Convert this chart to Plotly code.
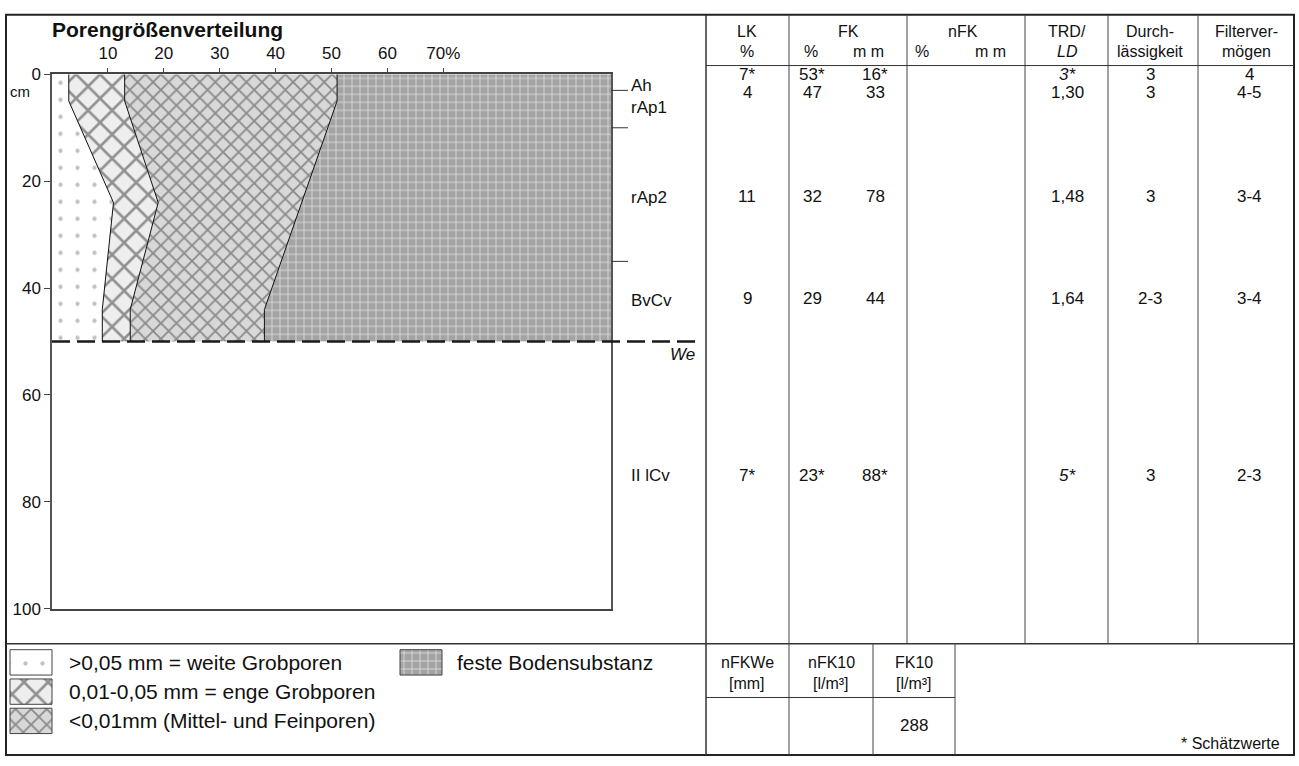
import plotly.graph_objects as go

W, H = 1299, 766

# ---------------- data ----------------
depth_lines = [0, 5, 24, 44, 50]          # cm
weite_limit = [3, 3, 11, 9, 9]            # % (cumulative) weite Grobporen
enge_limit = [13, 13, 19, 14, 14]         # % (cumulative) enge Grobporen
depth_fein = [0, 5, 44, 50]               # cm
fein_limit = [51, 51, 38, 38]             # % (cumulative) Mittel- und Feinporen
we_depth = 50                              # cm

horizons = ["Ah", "rAp1", "rAp2", "BvCv", "II lCv"]
horizon_bottom = [3, 10, 35, 50, 100]

x_ticks = [10, 20, 30, 40, 50, 60, 70]
x_ticklabels = ["10", "20", "30", "40", "50", "60", "70%"]
y_ticks = [0, 20, 40, 60, 80, 100]

lk = ["7*", "4", "11", "9", "7*"]
fk_pct = ["53*", "47", "32", "29", "23*"]
fk_mm = ["16*", "33", "78", "44", "88*"]
nfk_pct = ["", "", "", "", ""]
nfk_mm = ["", "", "", "", ""]
trd = ["3*", "1,30", "1,48", "1,64", "5*"]
trd_is_ld = [True, False, False, False, True]
durch = ["3", "3", "3", "2-3", "3"]
filterv = ["4", "4-5", "3-4", "3-4", "2-3"]

nfkwe = ""
nfk10 = ""
fk10 = "288"

legend_labels = [">0,05 mm = weite Grobporen", "0,01-0,05 mm = enge Grobporen",
                 "<0,01mm (Mittel- und Feinporen)", "feste Bodensubstanz"]

# ---------------- layout helpers ----------------
FONT = "Liberation Sans, Arial, sans-serif"
def X(px): return px / W
def Y(py): return 1 - py / H

PLOT_L, PLOT_R, PLOT_T, PLOT_B = 52, 611, 67, 615

patterns = {
    "weite": dict(shape=".", bgcolor="white", fgcolor="#c2c2c2", size=17, solidity=0.05, fillmode="replace"),
    "enge": dict(shape="x", bgcolor="#eeeeee", fgcolor="#909090", size=17, solidity=0.28, fillmode="replace"),
    "fein": dict(shape="x", bgcolor="#d8d8d8", fgcolor="#8a8a8a", size=11, solidity=0.3, fillmode="replace"),
    "feste": dict(shape="+", bgcolor="#a4a4a4", fgcolor="#d8d8d8", size=8, solidity=0.22, fillmode="replace"),
}

fig = go.Figure()

# --- pore-size areas (polygons) ---
polys = [
    ("weite", [0, 0] + weite_limit[::-1], [0, we_depth] + depth_lines[::-1]),
    ("enge", weite_limit + enge_limit[::-1], depth_lines + depth_lines[::-1]),
    ("fein", enge_limit + fein_limit[::-1], depth_lines + depth_fein[::-1]),
    ("feste", fein_limit + [100, 100], depth_fein + [we_depth, 0]),
]
for key, xs, ys in polys:
    fig.add_trace(go.Scatter(x=xs, y=ys, fill="toself", mode="lines",
                             line=dict(width=0, color="rgba(0,0,0,0)"),
                             fillpattern=patterns[key], hoverinfo="skip",
                             showlegend=False, xaxis="x", yaxis="y"))

# --- boundary lines ---
for xs, ys in [(weite_limit, depth_lines), (enge_limit, depth_lines), (fein_limit, depth_fein)]:
    fig.add_trace(go.Scatter(x=xs, y=ys, mode="lines", line=dict(color="#111", width=1),
                             hoverinfo="skip", showlegend=False, xaxis="x", yaxis="y"))

# --- legend swatches on a pixel-space overlay axis ---
swatches = [(10, 657, 52, 683), (10, 687, 52, 713), (10, 717, 52, 743), (400, 657, 442, 683)]
sw_keys = ["weite", "enge", "fein", "feste"]
for (x0, y0, x1, y1), key in zip(swatches, sw_keys):
    fig.add_trace(go.Scatter(x=[x0, x1, x1, x0, x0], y=[y0, y0, y1, y1, y0], fill="toself",
                             mode="lines", line=dict(color="#444", width=1),
                             fillpattern=patterns[key], hoverinfo="skip",
                             showlegend=False, xaxis="x2", yaxis="y2"))
legend_text_pos = [(67, 670), (67, 700), (67, 730), (455, 670)]

shapes = []
def hline(x0, x1, y, w=1, c="#333"):
    shapes.append(dict(type="line", xref="paper", yref="paper", x0=X(x0), x1=X(x1), y0=Y(y), y1=Y(y),
                       line=dict(color=c, width=w)))
def vline(x, y0, y1, w=1, c="#333"):
    shapes.append(dict(type="line", xref="paper", yref="paper", x0=X(x), x1=X(x), y0=Y(y0), y1=Y(y1),
                       line=dict(color=c, width=w)))

# outer frame
shapes.append(dict(type="rect", xref="paper", yref="paper", x0=X(6), x1=X(1294), y0=Y(6), y1=Y(765),
                   line=dict(color="#222", width=2)))
vline(706, 6, 765, 1.5, "#333")
hline(6, 1294, 651, 1.5, "#333")
# upper table
col_lines = [789, 907, 1025, 1108, 1198]
for cx in col_lines:
    vline(cx, 6, 651, 1, "#444")
hline(706, 1294, 58, 1, "#333")
# bottom table
for cx in [789, 873, 955]:
    vline(cx, 651, 765, 1, "#444")
hline(706, 955, 706, 1, "#333")

# We dashed line (depth from data)
shapes.append(dict(type="line", xref="paper", yref="y", x0=X(PLOT_L), x1=X(698), y0=we_depth, y1=we_depth,
                   line=dict(color="#1a1a1a", width=2.5, dash="18px,7px"), layer="above"))
# horizon boundary ticks
for d in horizon_bottom[:3]:
    shapes.append(dict(type="line", xref="paper", yref="y", x0=X(PLOT_R), x1=X(628), y0=d, y1=d,
                       line=dict(color="#333", width=1)))

ann = []
def text(px, py, s, size=16, xa="center", bold=False, italic=False, ya="middle"):
    if bold:
        s = "<b>" + s + "</b>"
    if italic:
        s = "<i>" + s + "</i>"
    ann.append(dict(x=X(px), y=Y(py), xref="paper", yref="paper", text=s, showarrow=False,
                    xanchor=xa, yanchor=ya, font=dict(family=FONT, size=size, color="#111")))

def text_d(px, depth, s, size=17, xa="center", italic=False):
    if italic:
        s = "<i>" + s + "</i>"
    ann.append(dict(x=X(px), y=depth, xref="paper", yref="y", text=s, showarrow=False,
                    xanchor=xa, yanchor="middle", font=dict(family=FONT, size=size, color="#111")))

text(50, 21, "Porengrößenverteilung", 21, xa="left", bold=True)
text(20, 85, "cm", 15)
text(683, 354, "We", 17, italic=True)

# horizon labels
horizon_label_depth = [2, 6.2, 23, 42.3, 75]
for name, d in zip(horizons, horizon_label_depth):
    text_d(629, d, name, 17, xa="left")

# table header
hdr1 = [(747, "LK"), (848, "FK"), (963, "nFK"), (1067, "TRD/"), (1150, "Durch-"), (1246, "Filterver-")]
for px, s in hdr1:
    text(px, 23, s, 16)
hdr2 = [(747, "%"), (811, "%"), (868, "m m"), (922, "%"), (990, "m m"), (1067, "<i>LD</i>"),
        (1150, "lässigkeit"), (1246, "mögen")]
for px, s in hdr2:
    text(px, 44, s, 16)

# table rows
table_row_depth = [0.1, 3.4, 22.9, 42.0, 75]
for i, d in enumerate(table_row_depth):
    text_d(747, d, lk[i])
    text_d(812, d, fk_pct[i])
    text_d(875, d, fk_mm[i])
    text_d(922, d, nfk_pct[i])
    text_d(990, d, nfk_mm[i])
    text_d(1067, d, trd[i], italic=trd_is_ld[i])
    text_d(1150, d, durch[i])
    text_d(1249, d, filterv[i])

# bottom table
text(747, 670, "nFKWe", 16); text(747, 692, "[mm]", 16)
text(831, 670, "nFK10", 16); text(831, 692, "[l/m³]", 16)
text(914, 670, "FK10", 16); text(914, 692, "[l/m³]", 16)
text(747, 735, nfkwe, 17); text(831, 735, nfk10, 17); text(914, 735, fk10, 17)
text(1282, 753, "* Schätzwerte", 16, xa="right")

# legend labels
for (px, py), s in zip(legend_text_pos, legend_labels):
    text(px, py, s, 21, xa="left")

fig.update_layout(
    width=W, height=H, margin=dict(l=0, r=0, t=0, b=0),
    paper_bgcolor="white", plot_bgcolor="rgba(0,0,0,0)",
    font=dict(family=FONT, size=16, color="#111"),
    xaxis=dict(domain=[X(PLOT_L), X(PLOT_R)], range=[0, 100], side="top", tickvals=x_ticks,
               ticktext=x_ticklabels, ticks="outside", ticklen=5, tickcolor="#444",
               ticklabelstandoff=2,
               showgrid=False, zeroline=False, showline=True, mirror=True, linecolor="#444",
               linewidth=1.5, tickfont=dict(size=17), anchor="y", fixedrange=True),
    yaxis=dict(domain=[Y(PLOT_B), Y(PLOT_T)], range=[100, 0], tickvals=y_ticks, ticks="outside",
               ticklen=6, tickcolor="#444", showgrid=False, zeroline=False, showline=True,
               mirror=True, linecolor="#555", linewidth=1.5, tickfont=dict(size=17), anchor="x",
               fixedrange=True),
    xaxis2=dict(domain=[0, 1], range=[0, W], visible=False, anchor="y2", fixedrange=True),
    yaxis2=dict(domain=[0, 1], range=[H, 0], visible=False, anchor="x2", fixedrange=True),
    shapes=shapes, annotations=ann, showlegend=False,
)

post = (
    "document.documentElement.style.margin='0';"
    "document.body.style.margin='0';"
    "var gd=document.getElementById('{plot_id}');"
    "gd.style.position='absolute';gd.style.top='0px';gd.style.left='0px';"
)
fig.write_html("out.html", config={"displayModeBar": False}, post_script=post)
